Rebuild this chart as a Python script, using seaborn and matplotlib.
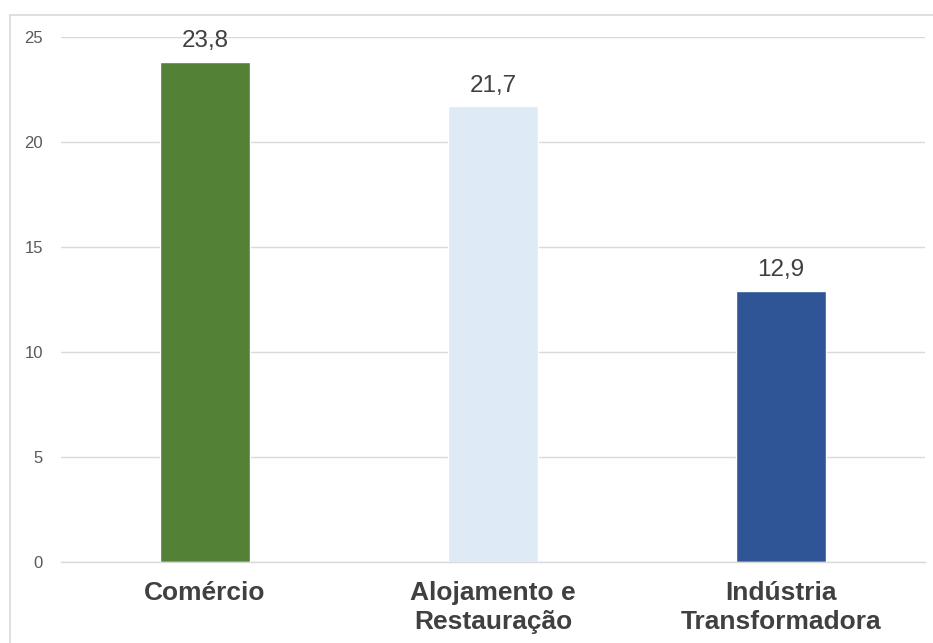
import matplotlib
matplotlib.use("Agg")
import matplotlib.pyplot as plt
import seaborn as sns
import pandas as pd
from matplotlib.lines import Line2D

# data
categorias = ["Comércio", "Alojamento e\nRestauração", "Indústria\nTransformadora"]
valores = [23.8, 21.7, 12.9]
cores = ["#538135", "#DEEAF6", "#2F5597"]
yticks = [0, 5, 10, 15, 20, 25]

df = pd.DataFrame({"categoria": categorias, "valor": valores})

sns.set_style("white")
plt.rcParams["font.family"] = ["Liberation Sans", "DejaVu Sans"]

fig = plt.figure(figsize=(9.33, 6.43), dpi=100)
ax = fig.add_axes([0.0654, 0.126, 0.926, 0.8165])

sns.barplot(data=df, x="categoria", y="valor", hue="categoria",
            palette=cores, width=0.31, legend=False, ax=ax, saturation=1)

ax.set_xlim(-0.5, 2.5)
ax.set_ylim(0, 25)
ax.set_yticks(yticks)
ax.set_yticklabels([str(t) for t in yticks], fontsize=12, color="#595959")
ax.yaxis.grid(True, color="#D9D9D9", linewidth=1)
ax.set_axisbelow(True)
ax.tick_params(axis="y", length=0, pad=13)
ax.tick_params(axis="x", length=0, pad=14)
for lbl in ax.get_xticklabels():
    lbl.set_fontsize(19)
    lbl.set_fontweight("bold")
    lbl.set_color("#404040")
    lbl.set_linespacing(1.25)
ax.set_xlabel("")
ax.set_ylabel("")

for s in ["top", "right", "left"]:
    ax.spines[s].set_visible(False)
ax.spines["bottom"].set_color("#D9D9D9")
ax.spines["bottom"].set_linewidth(1)

# value labels
for i, v in enumerate(valores):
    ax.annotate(f"{v:.1f}".replace(".", ","), (i, v), xytext=(0, 7),
                textcoords="offset points", ha="center", va="bottom",
                fontsize=17.5, color="#404040")

# outer chart border (left and top visible)
bx, by = 10 / 933, 1 - 15 / 643
fig.add_artist(Line2D([bx, bx], [0, by], color="#D9D9D9", linewidth=1.2))
fig.add_artist(Line2D([bx, 1], [by, by], color="#D9D9D9", linewidth=1.2))

fig.savefig("out.png", dpi=100)
